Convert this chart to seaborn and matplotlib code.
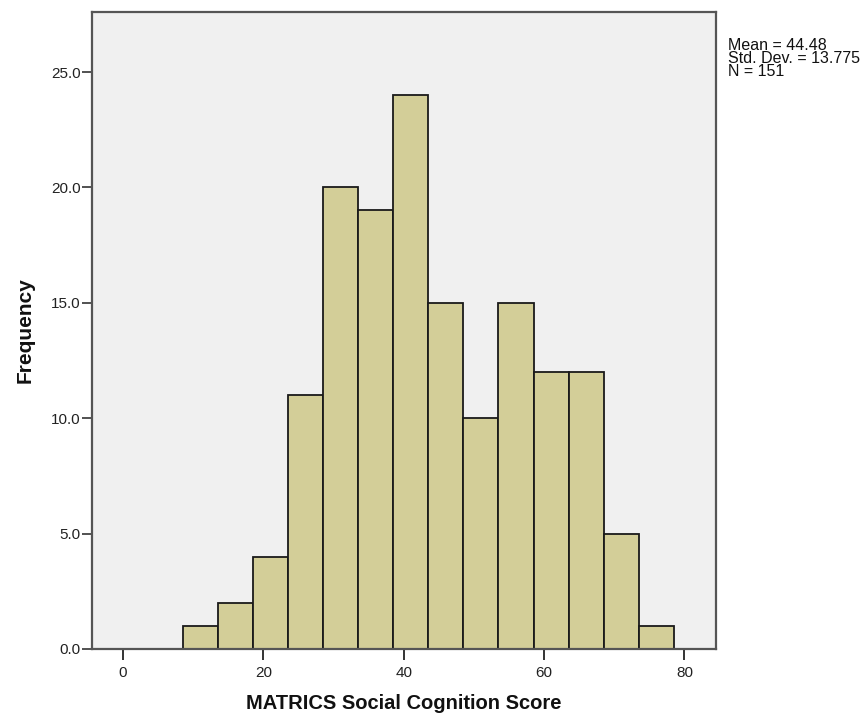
import matplotlib
matplotlib.use("Agg")
import matplotlib.pyplot as plt
import seaborn as sns
import numpy as np
import pandas as pd

# Histogram data: bin edges (width 5) and counts per bin
bin_edges = [8.5, 13.5, 18.5, 23.5, 28.5, 33.5, 38.5, 43.5, 48.5, 53.5, 58.5, 63.5, 68.5, 73.5, 78.5]
counts = [1, 2, 4, 11, 20, 19, 24, 15, 10, 15, 12, 12, 5, 1]
x_ticks = [0, 20, 40, 60, 80]
y_ticks = [0, 5, 10, 15, 20, 25]
stats_lines = ["Mean = 44.48", "Std. Dev. = 13.775", "N = 151"]

centers = [(a + b) / 2 for a, b in zip(bin_edges[:-1], bin_edges[1:])]
df = pd.DataFrame({"score": centers, "freq": counts})

sns.set_style("white")
plt.rcParams["font.family"] = ["Liberation Sans", "DejaVu Sans"]

fig = plt.figure(figsize=(8.68, 7.23), dpi=100)
ax = fig.add_axes([92 / 868, 1 - 649 / 723, (716 - 92) / 868, (649 - 12) / 723])
ax.set_facecolor("#F0F0F0")

sns.histplot(data=df, x="score", weights="freq", bins=bin_edges, ax=ax,
             color="#D3CE98", edgecolor="#1a1a1a", linewidth=1.3, alpha=1.0)

ax.set_xlim(-4.4, 84.5)
ax.set_ylim(0, 27.6)
ax.set_xticks(x_ticks)
ax.set_yticks(y_ticks)
ax.set_yticklabels([f"{v:.1f}" for v in y_ticks])

for s in ax.spines.values():
    s.set_color("#555555")
    s.set_linewidth(1.6)
    s.set_visible(True)

ax.tick_params(axis="y", direction="out", length=7, width=1.2, color="#333333",
               labelsize=11, labelcolor="#222222", pad=1, left=True)
ax.tick_params(axis="x", direction="out", length=8, width=1.2, color="#111111",
               labelsize=11, labelcolor="#222222", pad=4, bottom=True)

ax.set_xlabel("MATRICS Social Cognition Score", fontsize=14.5, fontweight="bold",
              labelpad=10, color="#111111")
ax.set_ylabel("Frequency", fontsize=15, fontweight="bold", labelpad=12,
              color="#111111")

# Summary statistics block beside the plot, tightly spaced lines
fig.text(728 / 868, 1 - 38 / 723, "\n".join(stats_lines), fontsize=11.5,
         va="top", ha="left", linespacing=0.82, color="#111111")

fig.savefig("out.png", dpi=100)
